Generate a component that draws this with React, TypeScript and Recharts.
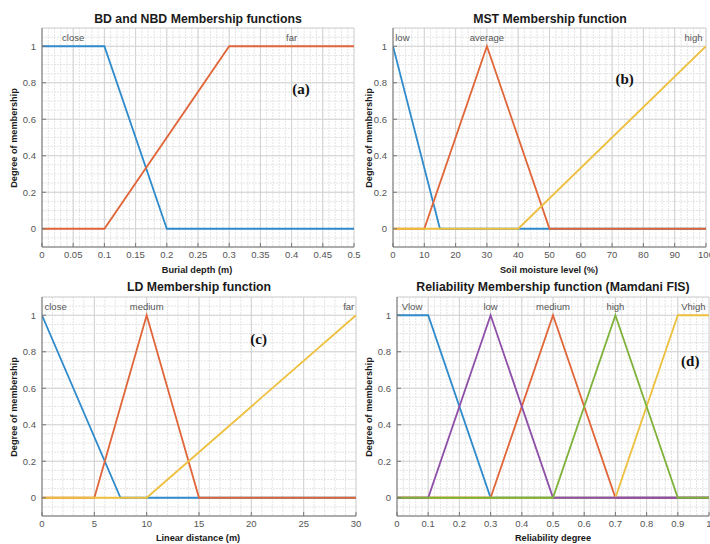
import React from 'react';
import { LineChart, Line, XAxis, YAxis, CartesianGrid, ReferenceDot } from 'recharts';

type Pt = { x: number; y: number };

// shared membership axis
const memberTicks = [0, 0.2, 0.4, 0.6, 0.8, 1];
const memberDomain: [number, number] = [-0.1, 1.1];

// (a) burial depth
const bdTicks = [0, 0.05, 0.1, 0.15, 0.2, 0.25, 0.3, 0.35, 0.4, 0.45, 0.5];
const bdClose: Pt[] = [{ x: 0, y: 1 }, { x: 0.1, y: 1 }, { x: 0.2, y: 0 }, { x: 0.5, y: 0 }];
const bdFar: Pt[] = [{ x: 0, y: 0 }, { x: 0.1, y: 0 }, { x: 0.3, y: 1 }, { x: 0.5, y: 1 }];
const bdNames = ['close', 'far'];
const bdNameX = [0.05, 0.4];

// (b) soil moisture
const mstTicks = [0, 10, 20, 30, 40, 50, 60, 70, 80, 90, 100];
const mstLow: Pt[] = [{ x: 0, y: 1 }, { x: 15, y: 0 }, { x: 100, y: 0 }];
const mstAvg: Pt[] = [{ x: 0, y: 0 }, { x: 10, y: 0 }, { x: 30, y: 1 }, { x: 50, y: 0 }, { x: 100, y: 0 }];
const mstHigh: Pt[] = [{ x: 0, y: 0 }, { x: 40, y: 0 }, { x: 100, y: 1 }];
const mstNames = ['low', 'average', 'high'];
const mstNameX = [3, 30, 96];

// (c) linear distance
const ldTicks = [0, 5, 10, 15, 20, 25, 30];
const ldClose: Pt[] = [{ x: 0, y: 1 }, { x: 7.5, y: 0 }, { x: 30, y: 0 }];
const ldMedium: Pt[] = [{ x: 0, y: 0 }, { x: 5, y: 0 }, { x: 10, y: 1 }, { x: 15, y: 0 }, { x: 30, y: 0 }];
const ldFar: Pt[] = [{ x: 0, y: 0 }, { x: 10, y: 0 }, { x: 30, y: 1 }];
const ldNames = ['close', 'medium', 'far'];
const ldNameX = [1.3, 10, 29.3];

// (d) reliability
const relTicks = [0, 0.1, 0.2, 0.3, 0.4, 0.5, 0.6, 0.7, 0.8, 0.9, 1];
const relVlow: Pt[] = [{ x: 0, y: 1 }, { x: 0.1, y: 1 }, { x: 0.3, y: 0 }, { x: 1, y: 0 }];
const relMedium: Pt[] = [{ x: 0, y: 0 }, { x: 0.3, y: 0 }, { x: 0.5, y: 1 }, { x: 0.7, y: 0 }, { x: 1, y: 0 }];
const relVhigh: Pt[] = [{ x: 0, y: 0 }, { x: 0.7, y: 0 }, { x: 0.9, y: 1 }, { x: 1, y: 1 }];
const relLow: Pt[] = [{ x: 0, y: 0 }, { x: 0.1, y: 0 }, { x: 0.3, y: 1 }, { x: 0.5, y: 0 }, { x: 1, y: 0 }];
const relHigh: Pt[] = [{ x: 0, y: 0 }, { x: 0.5, y: 0 }, { x: 0.7, y: 1 }, { x: 0.9, y: 0 }, { x: 1, y: 0 }];
const relNames = ['Vlow', 'low', 'medium', 'high', 'Vhigh'];
const relNameX = [0.048, 0.3, 0.5, 0.7, 0.95];

const BLUE = '#2f8bcc';
const ORANGE = '#e0663a';
const YELLOW = '#eec040';
const PURPLE = '#8e4fa8';
const GREEN = '#7fb23a';

const SANS = '"Liberation Sans", Arial, sans-serif';

// minor grid positions
const steps = (from: number, to: number, step: number) => {
  const out: number[] = [];
  const n = Math.round((to - from) / step);
  for (let i = 0; i <= n; i++) out.push(Math.round((from + i * step) * 1e6) / 1e6);
  return out;
};
const minorY = steps(-0.1, 1.1, 0.05);

// map a value into the plot box (used only for the minor grid lines)
const toPx = (axis: any, v: number, d: [number, number], start: number, len: number, flip: boolean) => {
  if (axis && typeof axis.scale === 'function') return axis.scale(v);
  const t = (v - d[0]) / (d[1] - d[0]);
  return flip ? start + len * (1 - t) : start + len * t;
};

type Series = { data: Pt[]; color: string };
type PanelProps = {
  left: number;
  top: number;
  width: number;
  right: number;
  domain: [number, number];
  ticks: number[];
  minorStep: number;
  series: Series[];
  names: string[];
  nameX: number[];
  tag: string;
  tagX: number;
  tagY: number;
};

const Panel = ({ left, top, width, right, domain, ticks, minorStep, series, names, nameX, tag, tagX, tagY }: PanelProps) => {
  const minorX = steps(domain[0], domain[1], minorStep);
  return (
    <div style={{ position: 'absolute', left, top }}>
      <LineChart width={width} height={280} margin={{ top: 28, right, bottom: 0, left: 0 }}>
        <CartesianGrid
          stroke="#e4e4e4"
          strokeDasharray="2 1"
          verticalCoordinatesGenerator={({ xAxis, offset }: any) =>
            minorX.map((v) => toPx(xAxis, v, domain, offset.left, offset.width, false))
          }
          horizontalCoordinatesGenerator={({ yAxis, offset }: any) =>
            minorY.map((v) => toPx(yAxis, v, memberDomain, offset.top, offset.height, true))
          }
        />
        <CartesianGrid stroke="#d2d2d2" />
        <XAxis
          type="number"
          dataKey="x"
          domain={domain}
          ticks={ticks}
          allowDataOverflow
          interval={0}
          height={33}
          stroke="#777"
          tickSize={-4}
          tickMargin={8}
          tick={{ fill: '#555', fontSize: 9.5, fontFamily: SANS }}
        />
        <XAxis xAxisId="top" orientation="top" type="number" domain={domain} ticks={ticks} allowDataOverflow interval={0} height={0} stroke="#777" tick={false} tickSize={-4} />
        <YAxis
          type="number"
          domain={memberDomain}
          ticks={memberTicks}
          allowDataOverflow
          interval={0}
          width={42}
          stroke="#777"
          tickSize={-4}
          tickMargin={10}
          tick={{ fill: '#555', fontSize: 9.5, fontFamily: SANS }}
        />
        <YAxis yAxisId="right" orientation="right" type="number" domain={memberDomain} ticks={memberTicks} allowDataOverflow interval={0} width={0} stroke="#777" tick={false} tickSize={-4} />
        {series.map((s, i) => (
          <Line key={i} data={s.data} dataKey="y" type="linear" stroke={s.color} strokeWidth={1.8} dot={false} isAnimationActive={false} />
        ))}
        {names.map((n, i) => (
          <ReferenceDot
            key={n}
            x={nameX[i]}
            y={1.047}
            r={0}
            fill="none"
            stroke="none"
            ifOverflow="visible"
            label={{ value: n, position: 'center', fill: '#555', fontSize: 9.5, fontFamily: SANS }}
          />
        ))}
        <ReferenceDot
          x={tagX}
          y={tagY}
          r={0}
          fill="none"
          stroke="none"
          label={{ value: tag, position: 'center', fill: '#111', fontSize: 15, fontWeight: 'bold', fontFamily: '"Liberation Serif", "Times New Roman", serif' }}
        />
      </LineChart>
    </div>
  );
};

const Txt = ({ x, y, size, children, rotate }: { x: number; y: number; size: number; children: React.ReactNode; rotate?: boolean }) => (
  <div
    style={{
      position: 'absolute',
      left: x,
      top: y,
      transform: `translate(-50%, -50%)${rotate ? ' rotate(-90deg)' : ''}`,
      whiteSpace: 'nowrap',
      fontFamily: SANS,
      fontWeight: 'bold',
      fontSize: size,
      color: '#1a1a1a',
      lineHeight: 1,
    }}
  >
    {children}
  </div>
);

export default function App() {
  return (
    <div style={{ position: 'absolute', left: 0, top: 0, width: 710, height: 544, overflow: 'hidden', background: '#fff' }}>
      <Panel
        left={0}
        top={0}
        width={366}
        right={12}
        domain={[0, 0.5]}
        ticks={bdTicks}
        minorStep={0.01}
        series={[{ data: bdClose, color: BLUE }, { data: bdFar, color: ORANGE }]}
        names={bdNames}
        nameX={bdNameX}
        tag="(a)"
        tagX={0.415}
        tagY={0.765}
      />
      <Panel
        left={351}
        top={0}
        width={359}
        right={4}
        domain={[0, 100]}
        ticks={mstTicks}
        minorStep={2}
        series={[{ data: mstLow, color: BLUE }, { data: mstAvg, color: ORANGE }, { data: mstHigh, color: YELLOW }]}
        names={mstNames}
        nameX={mstNameX}
        tag="(b)"
        tagX={74}
        tagY={0.82}
      />
      <Panel
        left={0}
        top={269}
        width={368}
        right={12}
        domain={[0, 30]}
        ticks={ldTicks}
        minorStep={1}
        series={[{ data: ldClose, color: BLUE }, { data: ldMedium, color: ORANGE }, { data: ldFar, color: YELLOW }]}
        names={ldNames}
        nameX={ldNameX}
        tag="(c)"
        tagX={20.7}
        tagY={0.87}
      />
      <Panel
        left={355}
        top={269}
        width={358}
        right={4}
        domain={[0, 1]}
        ticks={relTicks}
        minorStep={0.02}
        series={[
          { data: relVlow, color: BLUE },
          { data: relMedium, color: ORANGE },
          { data: relVhigh, color: YELLOW },
          { data: relLow, color: PURPLE },
          { data: relHigh, color: GREEN },
        ]}
        names={relNames}
        nameX={relNameX}
        tag="(d)"
        tagX={0.94}
        tagY={0.75}
      />

      <Txt x={198} y={19} size={12.3}>BD and NBD Membership functions</Txt>
      <Txt x={550} y={19} size={12.3}>MST Membership function</Txt>
      <Txt x={199} y={287} size={12.3}>LD Membership function</Txt>
      <Txt x={553} y={287} size={12.3}>Reliability Membership function (Mamdani FIS)</Txt>

      <Txt x={197} y={271} size={9.2}>Burial depth (m)</Txt>
      <Txt x={549} y={271} size={9.2}>Soil moisture level (%)</Txt>
      <Txt x={198} y={539} size={9.2}>Linear distance (m)</Txt>
      <Txt x={553} y={539} size={9.2}>Reliability degree</Txt>

      <Txt x={15} y={138} size={9.2} rotate>Degree of membership</Txt>
      <Txt x={370} y={138} size={9.2} rotate>Degree of membership</Txt>
      <Txt x={15} y={407} size={9.2} rotate>Degree of membership</Txt>
      <Txt x={370} y={407} size={9.2} rotate>Degree of membership</Txt>
    </div>
  );
}
